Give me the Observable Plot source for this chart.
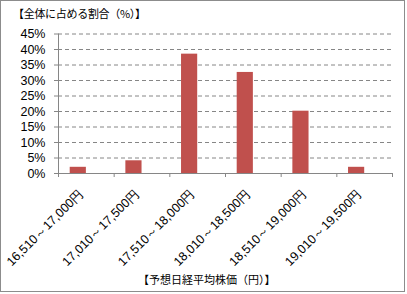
<!DOCTYPE html>
<html><head><meta charset="utf-8">
<script src="https://cdn.jsdelivr.net/npm/d3@7"></script>
<script src="https://cdn.jsdelivr.net/npm/@observablehq/plot@0.6"></script>
<style>
html,body{margin:0;padding:0;background:#fff;}
#wrap{position:relative;width:407px;height:294px;overflow:hidden;}
#frame{position:absolute;left:0;top:0;width:403px;height:290px;border:1px solid #8c8c8c;}
#title{position:absolute;left:13px;top:5px;font:11px "Noto Sans CJK JP";letter-spacing:-0.3px;color:#000;white-space:nowrap;}
#xtitle{position:absolute;left:138px;top:271px;width:132px;text-align:center;font:11px "Noto Sans CJK JP";color:#000;white-space:nowrap;}
#chart{position:absolute;left:0;top:0;}
</style></head>
<body><div id="wrap"><div id="frame"></div><div id="chart"></div><div id="title"></div><div id="xtitle"></div></div>
<script>
const categories = ["16,510～17,000円","17,010～17,500円","17,510～18,000円","18,010～18,500円","18,510～19,000円","19,010～19,500円"];
const shares = [2.0, 4.1, 38.5, 32.6, 20.1, 2.0];
const yTicks = [0,5,10,15,20,25,30,35,40,45];
const yTitle = "【全体に占める割合（%）】";
const xTitle = "【予想日経平均株価（円）】";

document.getElementById("title").textContent = yTitle;
document.getElementById("xtitle").textContent = xTitle;

const data = categories.map((c,i)=>({i, c, v: shares[i]}));
const bounds = d3.range(categories.length+1);
const mids = categories.map((c,i)=>i+0.5);

const chart = Plot.plot({
  width: 407, height: 294,
  marginLeft: 58, marginRight: 15, marginTop: 33.5, marginBottom: 121,
  style: {fontFamily: '"Liberation Sans", sans-serif', background: "transparent"},
  x: {type: "linear", domain: [0, categories.length]},
  y: {domain: [0, 45]},
  marks: [
    Plot.gridY(yTicks, {stroke: "#868686", strokeOpacity: 1, strokeDasharray: "4,3", strokeWidth: 1}),
    Plot.rectY(data, {x1: "i", x2: d => d.i + 1, y: "v", insetLeft: 11.7, insetRight: 27.8, fill: "#c0504d"}),
    Plot.ruleX([0], {stroke: "#868686"}),
    Plot.ruleY([0], {stroke: "#868686"}),
    Plot.axisY(yTicks, {tickFormat: d => d + "%", tickSize: 4, tickPadding: 9, stroke: "#868686", fontSize: 12.5, fill: "#000", label: null}),
    Plot.axisX(bounds, {tickSize: 4, tickFormat: () => "", stroke: "#868686", label: null}),
    Plot.axisX(mids, {tickSize: 0, tickRotate: -45, tickPadding: 18, dx: -5, tickFormat: d => categories[Math.floor(d)], fontSize: 12.5, fill: "#000", label: null})
  ]
});
document.getElementById("chart").append(chart);
</script></body></html>
